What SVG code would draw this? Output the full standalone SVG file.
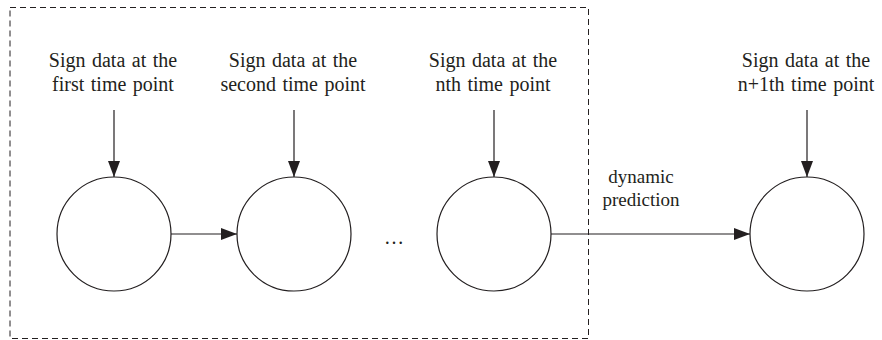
<svg xmlns="http://www.w3.org/2000/svg" width="882" height="340" viewBox="0 0 882 340">
<style>
text{font-family:'Liberation Serif','DejaVu Serif',serif;font-size:20px;fill:#231f20;text-anchor:middle;word-spacing:1.5px}
.c{fill:#fff;stroke:#231f20;stroke-width:1.2}
.e{stroke:#231f20;stroke-width:1.2;fill:none;marker-end:url(#ah)}
</style>
<defs>
<marker id="ah" viewBox="0 0 16 12" refX="16" refY="6" markerWidth="16" markerHeight="12" markerUnits="userSpaceOnUse" orient="auto">
<path d="M0,0L16,6L0,12z" fill="#231f20"/>
</marker>
</defs>
<rect x="10" y="7.5" width="578.5" height="331" fill="none" stroke="#231f20" stroke-width="1" stroke-dasharray="6,4"/>
<g id="connectors">
<line class="e" x1="114" y1="110" x2="114" y2="177"/>
<line class="e" x1="294" y1="110" x2="294" y2="177"/>
<line class="e" x1="494" y1="110" x2="494" y2="177"/>
<line class="e" x1="807" y1="110" x2="807" y2="177"/>
<line class="e" x1="171" y1="234" x2="237" y2="234"/>
<line class="e" x1="551" y1="234" x2="750" y2="234"/>
<text x="641" y="183" style="font-size:19px">dynamic</text>
<text x="641" y="206" style="font-size:19px">prediction</text>
</g>
<g id="n1"><circle class="c" cx="114" cy="234" r="57"/><text x="113" y="67">Sign data at the</text><text x="113" y="91">first time point</text></g>
<g id="n2"><circle class="c" cx="294" cy="234" r="57"/><text x="293" y="67">Sign data at the</text><text x="293" y="91">second time point</text></g>
<g id="dots"><text x="394" y="244">…</text></g>
<g id="n3"><circle class="c" cx="494" cy="234" r="57"/><text x="493" y="67">Sign data at the</text><text x="493" y="91">nth time point</text></g>
<g id="n4"><circle class="c" cx="807" cy="234" r="57"/><text x="806" y="67">Sign data at the</text><text x="806" y="91">n+1th time point</text></g>
</svg>
